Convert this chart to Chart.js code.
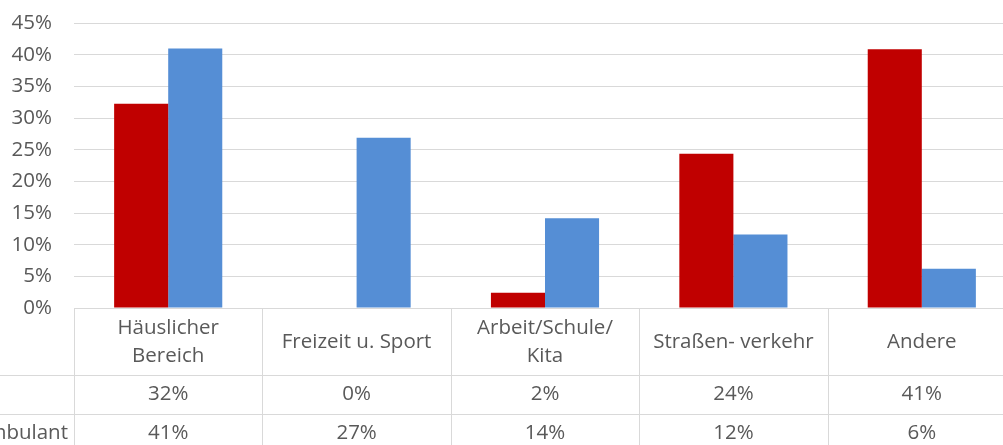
<!DOCTYPE html>
<html>
<head>
<meta charset="utf-8">
<script src="https://cdn.jsdelivr.net/npm/chart.js@4"></script>
<style>
  html, body { margin: 0; padding: 0; overflow: hidden; background: #fff; }
  #wrap { width: 1016px; height: 445px; overflow: hidden; }
  #chart { display: block; margin-top: -11px; }
</style>
</head>
<body>
<div id="wrap"><canvas id="chart" width="1016" height="456"></canvas></div>
<script>
// categories (table header), series names (row labels) and values (percent)
var categories = [['Häuslicher', 'Bereich'], 'Freizeit u. Sport', ['Arbeit/Schule/', 'Kita'], 'Straßen- verkehr', 'Andere'];
var seriesNames = ['', 'Ambulant'];
var stationaer = [32.3, 0, 2.4, 24.4, 40.9];
var ambulant = [41.0, 26.9, 14.2, 11.6, 6.2];
var yTicks = [0, 5, 10, 15, 20, 25, 30, 35, 40, 45];

const GRID = '#d9d9d9';
const TEXT = '#595959';
const FONT = '"Open Sans", Lato, sans-serif';
const SIZE = 20.5;

// draws the data table under the bars
const dataTable = {
    id: 'dataTable',
    afterDraw: function (chart) {
        const ctx = chart.ctx;
        const x = chart.scales.x;
        const area = chart.chartArea;
        const half = (x.getPixelForValue(1) - x.getPixelForValue(0)) / 2;
        const top = Math.round(area.bottom) + 0.5;
        const row1 = top + 67;
        const row2 = row1 + 39;
        const bottom = chart.height;
        const rows = [stationaer, ambulant];

        ctx.save();
        ctx.strokeStyle = GRID;
        ctx.lineWidth = 1;
        ctx.beginPath();
        // horizontal lines
        ctx.moveTo(area.left, top); ctx.lineTo(chart.width, top);
        ctx.moveTo(0, row1); ctx.lineTo(chart.width, row1);
        ctx.moveTo(0, row2); ctx.lineTo(chart.width, row2);
        // vertical lines
        for (var i = 0; i <= categories.length; i++) {
            var vx = Math.round(x.getPixelForValue(i) - half) + 0.5;
            ctx.moveTo(vx, top); ctx.lineTo(vx, bottom);
        }
        ctx.stroke();

        ctx.fillStyle = TEXT;
        ctx.font = SIZE + 'px ' + FONT;
        ctx.textAlign = 'center';
        ctx.textBaseline = 'middle';
        categories.forEach(function (cat, i) {
            var cx = x.getPixelForValue(i);
            var lines = Array.isArray(cat) ? cat : [cat];
            var cy = (top + row1) / 2 - (lines.length - 1) * 28 / 2;
            lines.forEach(function (l, k) {
                ctx.fillText(l, cx, cy + k * 28);
            });
            rows.forEach(function (r, j) {
                var ry = j === 0 ? (top + row1) / 2 + 52 : row2 + 19;
                ctx.fillText(Math.round(r[i]) + '%', cx, ry);
            });
        });

        ctx.textAlign = 'right';
        ctx.fillText(seriesNames[0], 68, (row1 + row2) / 2);
        ctx.fillText(seriesNames[1], 68, row2 + 19);
        ctx.restore();
    }
};

new Chart(document.getElementById('chart'), {
    type: 'bar',
    data: {
        labels: categories,
        datasets: [{
            label: 'Stationär',
            data: stationaer,
            backgroundColor: '#c00000',
            categoryPercentage: 0.574,
            barPercentage: 1
        }, {
            label: seriesNames[1],
            data: ambulant,
            backgroundColor: '#558ed5',
            categoryPercentage: 0.574,
            barPercentage: 1
        }]
    },
    options: {
        responsive: false,
        animation: false,
        layout: {
            padding: { top: 0, bottom: 137, left: 0, right: 0 }
        },
        scales: {
            x: {
                display: false
            },
            y: {
                min: 0,
                max: 45,
                afterFit: function (scale) { scale.width = 74; },
                afterBuildTicks: function (scale) {
                    scale.ticks = yTicks.map(function (v) { return { value: v }; });
                },
                border: { display: false },
                grid: { color: GRID, drawTicks: false },
                ticks: {
                    padding: 22,
                    color: TEXT,
                    font: { family: FONT, size: SIZE },
                    callback: function (v) { return v + '%'; }
                }
            }
        },
        plugins: {
            legend: { display: false },
            tooltip: { enabled: false }
        }
    },
    plugins: [dataTable]
});
</script>
</body>
</html>
